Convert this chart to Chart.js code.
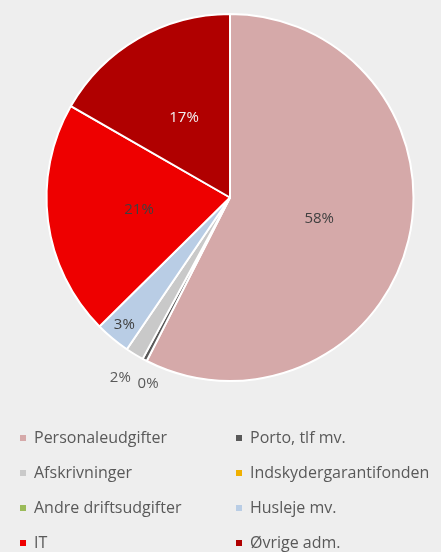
<!DOCTYPE html>
<html>
<head>
<meta charset="utf-8">
<script src="https://cdn.jsdelivr.net/npm/chart.js@4/dist/chart.umd.min.js"></script>
<style>
  html, body { margin: 0; padding: 0; background: #eeeeee; }
  #wrap { width: 441px; height: 552px; position: relative; }
</style>
</head>
<body>
<div id="wrap"><canvas id="pie"></canvas></div>
<script>
const categories = ['Personaleudgifter', 'Porto, tlf mv.', 'Afskrivninger', 'Indskydergarantifonden',
                    'Andre driftsudgifter', 'Husleje mv.', 'IT', 'Øvrige adm.']
const shares = [57.5, 0.4, 1.6, 0, 0, 3.1, 20.7, 16.7]
const percentLabels = ['58%', '0%', '2%', '', '', '3%', '21%', '17%']

const colors = ['#d5a9a9', '#595959', '#c9c9c9', '#f0b000', '#9bbb59', '#b9cde5', '#ee0000', '#b00000']
const labelColors = ['#404040', '#595959', '#595959', '#404040', '#404040', '#404040', '#404040', '#f2f2f2']
// radius factor and angle nudge (degrees) for each percent label
const labelPlace = [[0.5, 0], [1.11, -4], [1.15, 0], [0.5, 0], [0.5, 0], [0.9, 0], [0.5, 0], [0.5, 0]]

const percentPlugin = {
    id: 'percentLabels',
    afterDatasetsDraw(chart) {
        const ctx = chart.ctx
        const arcs = chart.getDatasetMeta(0).data
        ctx.save()
        ctx.font = '15px "Open Sans", sans-serif'
        ctx.textAlign = 'center'
        ctx.textBaseline = 'middle'
        arcs.forEach((arc, i) => {
            if (!percentLabels[i]) return
            const p = arc.getProps(['x', 'y', 'startAngle', 'endAngle', 'outerRadius'], true)
            const mid = (p.startAngle + p.endAngle) / 2 + labelPlace[i][1] * Math.PI / 180
            const r = p.outerRadius * labelPlace[i][0]
            ctx.fillStyle = labelColors[i]
            ctx.fillText(percentLabels[i], p.x + Math.cos(mid) * r, p.y + Math.sin(mid) * r)
        })
        ctx.restore()
    }
}

// two column legend under the pie
const legendPlugin = {
    id: 'gridLegend',
    afterDraw(chart) {
        const ctx = chart.ctx
        ctx.save()
        ctx.font = '16px "Open Sans", sans-serif'
        ctx.textBaseline = 'middle'
        categories.forEach((name, i) => {
            const x = i % 2 === 0 ? 20 : 236
            const y = 438 + Math.floor(i / 2) * 35
            ctx.fillStyle = colors[i]
            ctx.fillRect(x, y - 3, 6, 6)
            ctx.fillStyle = '#595959'
            ctx.fillText(name, x + 14, y)
        })
        ctx.restore()
    }
}

new Chart(document.getElementById('pie'), {
    type: 'pie',
    data: {
        labels: categories,
        datasets: [{
            data: shares,
            backgroundColor: colors,
            borderColor: '#ffffff',
            borderWidth: 2,
            hoverOffset: 0
        }]
    },
    options: {
        responsive: true,
        maintainAspectRatio: false,
        animation: false,
        layout: { padding: { top: 13, bottom: 170, left: 19, right: 0 } },
        plugins: {
            legend: { display: false },
            tooltip: { enabled: false }
        }
    },
    plugins: [percentPlugin, legendPlugin]
})
</script>
</body>
</html>
